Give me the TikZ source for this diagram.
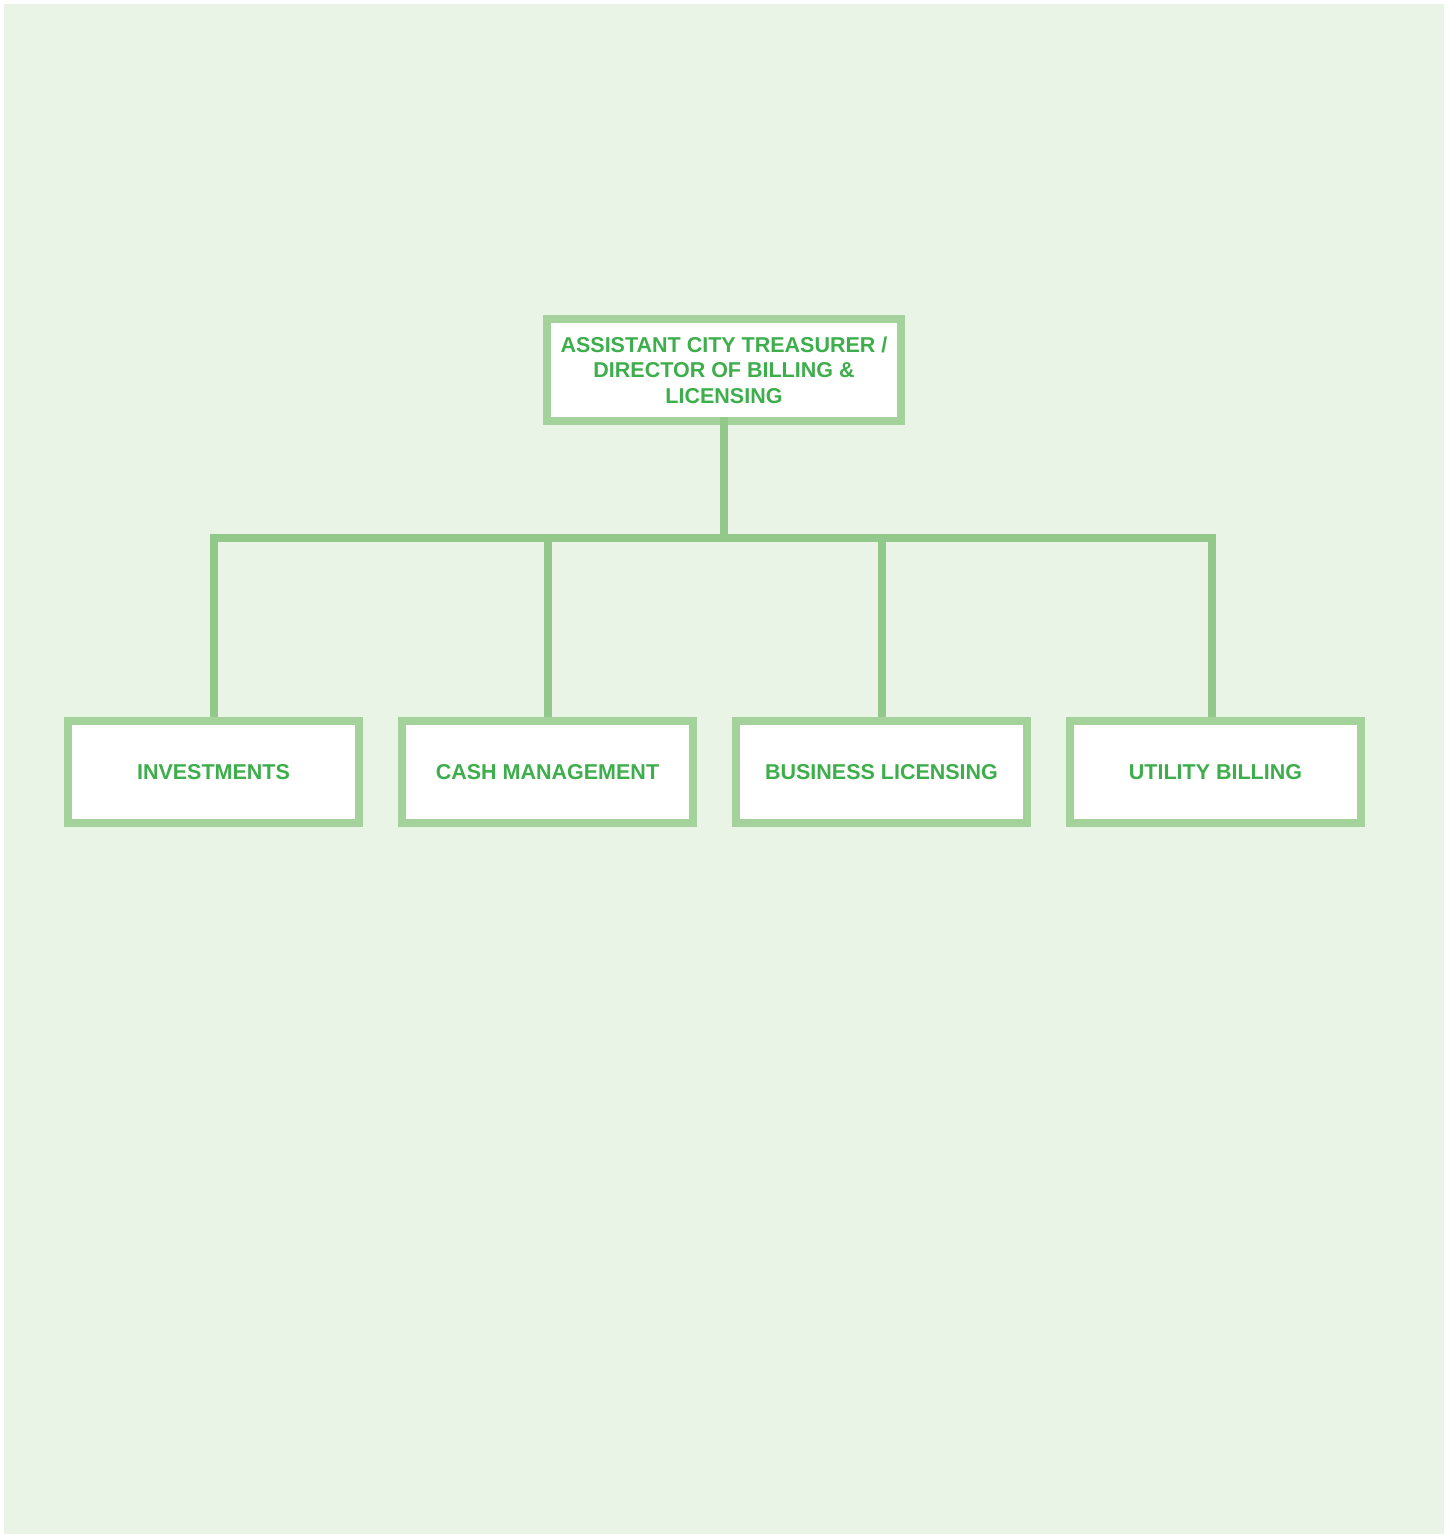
\documentclass[tikz,border=0pt]{standalone}
\usepackage{fontspec}
\setmainfont{Liberation Sans}
\definecolor{bgc}{HTML}{E9F4E7}
\definecolor{boxc}{HTML}{A3D39B}
\definecolor{linec}{HTML}{92C98A}
\definecolor{txtc}{HTML}{3DAE4B}
\tikzset{
  orgbox/.style={draw=boxc, line width=8pt, fill=white, text=txtc,
    font=\fontsize{21.5}{25.5}\selectfont\bfseries, align=center,
    inner sep=0pt, outer sep=0pt},
  unitbox/.style={orgbox, minimum width=291.5pt, minimum height=101.5pt},
  headbox/.style={orgbox, minimum width=354.5pt, minimum height=102pt},
  conn/.style={draw=linec, line width=8pt, line join=miter}
}
\begin{document}
\begin{tikzpicture}[x=1pt,y=-1pt]
\fill[white] (0,0) rectangle (1450,1534);
\useasboundingbox (0,0) rectangle (1450,1534);
\fill[bgc] (4,4) rectangle (1444,1534);
\coordinate (bus) at (0,538);
\node[headbox] (head) at (724,370) {ASSISTANT CITY TREASURER /\\DIRECTOR OF BILLING \&\\LICENSING};
\node[unitbox] (inv) at (213.5,772) {INVESTMENTS};
\node[unitbox] (cash) at (547.5,772) {CASH MANAGEMENT};
\node[unitbox] (biz) at (881.5,772) {BUSINESS LICENSING};
\node[unitbox] (util) at (1215.5,772) {UTILITY BILLING};
\draw[conn] ([yshift=4pt]head.south) -- (head.south |- bus);
\draw[conn] ([yshift=4pt]inv.north) -- (inv.north |- bus) -- ([xshift=-3.5pt]util.north |- bus) -- ([xshift=-3.5pt,yshift=4pt]util.north);
\draw[conn] ([yshift=4pt]cash.north) -- (cash.north |- bus);
\draw[conn] ([yshift=4pt]biz.north) -- (biz.north |- bus);
\end{tikzpicture}
\end{document}
